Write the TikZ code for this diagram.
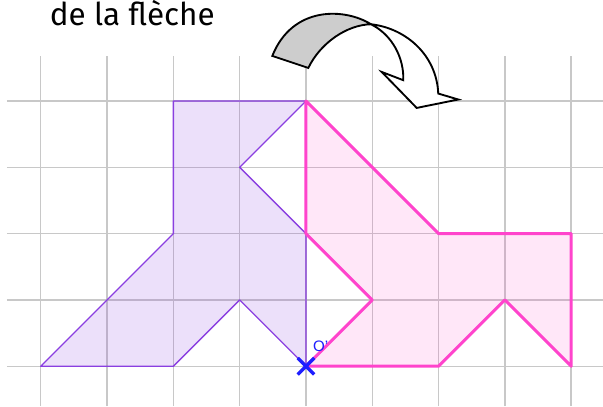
\documentclass[tikz,border=0pt]{standalone}
\usepackage{fontspec}
\setmainfont{Liberation Sans}
\newfontfamily\captionfont{Fira Sans}
\usetikzlibrary{positioning,shapes.misc}
\definecolor{GridGray}{HTML}{C8C8C8}
\definecolor{FigViolet}{HTML}{8A3FE0}
\definecolor{ImgPink}{HTML}{FF44CC}
\definecolor{CentreBlue}{HTML}{1E1EFF}
\definecolor{ArrowBack}{HTML}{CDCDCD}
\tikzset{
  gridline/.style={draw=GridGray, line width=0.6pt},
  figshape/.style={draw=FigViolet, fill=FigViolet, fill opacity=0.16, line width=0.6pt, line join=round},
  imgshape/.style={draw=ImgPink, fill=ImgPink, fill opacity=0.13, line width=1.3pt, line join=round},
  centremark/.style={cross out, draw=CentreBlue, line width=1.4pt, minimum size=0.2cm, inner sep=0pt},
  ribbon/.style={draw=black, line width=0.8pt, line join=miter}
}
\begin{document}
\begin{tikzpicture}[x=1cm,y=1cm]
  \useasboundingbox (-4.615,-0.6) rectangle (4.48,5.524);
  % grid
  \foreach \i in {-4,...,4}
    \draw[gridline] (\i,-0.6) -- (\i,4.68);
  \foreach \j in {0,...,4}
    \draw[gridline] (-4.51,\j) -- (4.48,\j);
  % figure and its image by the rotation
  \draw[figshape] (-2,4) -- (0,4) -- (-1,3) -- (0,2) -- (0,0) -- (-1,1)
    -- (-2,0) -- (-4,0) -- (-2,2) -- cycle;
  \draw[imgshape] (0,0) -- (2,0) -- (3,1) -- (4,0) -- (4,2) -- (2,2)
    -- (0,4) -- (0,2) -- (1,1) -- cycle;
  % centre O'
  \node[centremark] (centre) at (0,0) {};
  \node[font=\fontsize{6.5}{8}\selectfont, text=CentreBlue, inner sep=0pt,
    above right=0.22cm and 0.1cm of centre.center] (centrelabel) {O'};
  % arrow showing the direction
  \coordinate (twist) at (0.98,5.158);
  \draw[ribbon, fill=ArrowBack] (-0.508,4.68) -- (0.035,4.499)
    .. controls (0.22,4.88) and (0.62,5.15) .. (twist)
    .. controls (0.6,5.4) and (-0.2,5.45) .. cycle;
  \draw[ribbon, fill=white] (twist)
    .. controls (1.5,5.1) and (1.97,4.7) .. (1.995,4.113)
    -- (2.297,4.023) -- (1.67,3.896) -- (1.142,4.439) -- (1.468,4.314)
    .. controls (1.48,4.65) and (1.3,5.0) .. cycle;
  % caption
  \node[font=\captionfont\fontsize{13.5}{15}\selectfont, anchor=base] (caption)
    at (-2.62,5.14) {de la flèche};
\end{tikzpicture}
\end{document}
